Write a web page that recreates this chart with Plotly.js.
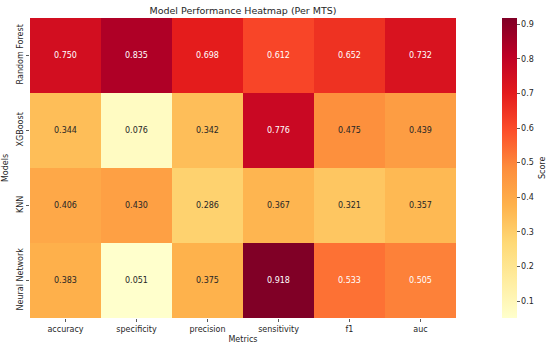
<!DOCTYPE html>
<html><head><meta charset="utf-8">
<script src="https://cdn.plot.ly/plotly-3.0.1.min.js"></script>
<style>html,body{margin:0;padding:0;background:#fff}#chart{width:550px;height:349px}</style>
</head><body><div id="chart"></div>
<script>
const metrics = ["accuracy", "specificity", "precision", "sensitivity", "f1", "auc"];
const models = ["Random Forest", "XGBoost", "KNN", "Neural Network"];
const randomForest = [0.750, 0.835, 0.698, 0.612, 0.652, 0.732];
const xgboost = [0.344, 0.076, 0.342, 0.776, 0.475, 0.439];
const knn = [0.406, 0.430, 0.286, 0.367, 0.321, 0.357];
const neuralNetwork = [0.383, 0.051, 0.375, 0.918, 0.533, 0.505];
const cbTicks = [0.1, 0.2, 0.3, 0.4, 0.5, 0.6, 0.7, 0.8, 0.9];

const z = [randomForest, xgboost, knn, neuralNetwork];
const allVals = z.flat();
const zmin = Math.min(...allVals), zmax = Math.max(...allVals);

const ylorrd = [
  [0.0, "#ffffcc"], [0.125, "#ffeda0"], [0.25, "#fed976"], [0.375, "#feb24c"],
  [0.5, "#fd8d3c"], [0.625, "#fc4e2a"], [0.75, "#e31a1c"], [0.875, "#bd0026"], [1.0, "#800026"]
];

const font = "DejaVu Sans, sans-serif";
const txt = "#262626";
const annotations = [];
z.forEach((row, i) => row.forEach((v, j) => {
  annotations.push({
    x: metrics[j], y: models[i], xref: "x", yref: "y",
    text: v.toFixed(3), showarrow: false,
    font: {family: font, size: 8, color: v > 0.5 ? "#ffffff" : txt}
  });
}));
annotations.push({
  x: 1.202, y: 0.5, xref: "paper", yref: "paper", xanchor: "center", yanchor: "middle",
  text: "Score", textangle: -90, showarrow: false,
  font: {family: font, size: 8, color: txt}
});

const trace = {
  type: "heatmap", x: metrics, y: models, z: z,
  zmin: zmin, zmax: zmax, colorscale: ylorrd, xgap: 0, ygap: 0,
  hoverinfo: "skip",
  colorbar: {
    x: 1.108, xanchor: "left", xref: "paper", thickness: 15, len: 1, lenmode: "fraction",
    y: 0.5, yanchor: "middle", ypad: 0, xpad: 0, outlinewidth: 0,
    tickvals: cbTicks, ticktext: cbTicks.map(t => t.toFixed(1)),
    ticks: "outside", ticklen: 3, tickwidth: 0.8, tickcolor: "#333",
    tickfont: {family: font, size: 8, color: txt}
  }
};

const layout = {
  width: 550, height: 349,
  margin: {l: 30, r: 94, t: 18, b: 31},
  paper_bgcolor: "#fff", plot_bgcolor: "#fff",
  title: {text: "Model Performance Heatmap (Per MTS)", x: 0.5, xref: "paper", xanchor: "center",
          y: 1, yref: "paper", yanchor: "bottom", pad: {b: 4},
          font: {family: font, size: 9.5, color: txt, weight: "normal"}},
  xaxis: {type: "category", showgrid: false, zeroline: false, showline: false,
          ticks: "outside", ticklen: 3, tickwidth: 0.8, tickcolor: "#333",
          tickfont: {family: font, size: 8, color: txt},
          title: {text: "Metrics", standoff: 3, font: {family: font, size: 8, color: txt}}},
  yaxis: {type: "category", autorange: "reversed", showgrid: false, zeroline: false, showline: false,
          ticks: "outside", ticklen: 3, tickwidth: 0.8, tickcolor: "#333", tickangle: -90,
          tickfont: {family: font, size: 8, color: txt},
          title: {text: "Models", standoff: 5, font: {family: font, size: 8, color: txt}}},
  annotations: annotations
};

Plotly.newPlot("chart", [trace], layout, {displayModeBar: false, staticPlot: true});
</script></body></html>
